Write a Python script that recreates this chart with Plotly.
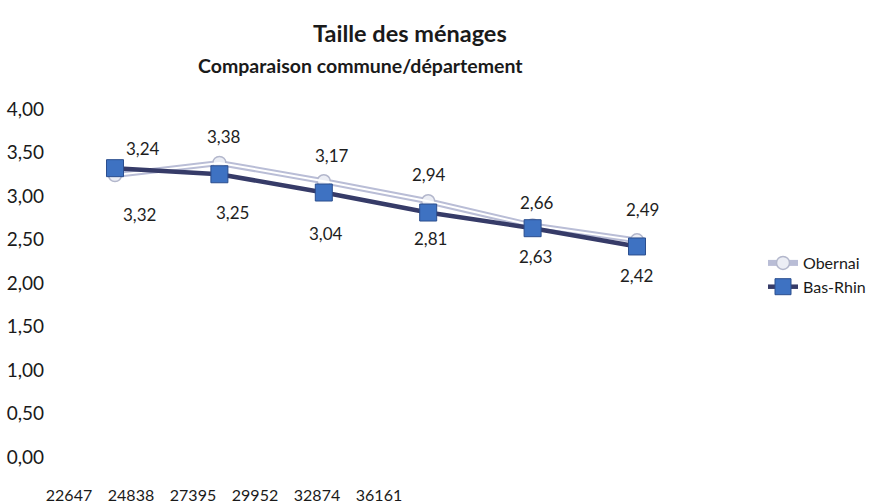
import plotly.graph_objects as go

# ---- data ----
categories = ["22647", "24838", "27395", "29952", "32874", "36161"]
obernai = [3.24, 3.38, 3.17, 2.94, 2.66, 2.49]
bas_rhin = [3.32, 3.25, 3.04, 2.81, 2.63, 2.42]
y_ticks = [0, 0.5, 1, 1.5, 2, 2.5, 3, 3.5, 4]
title_line1 = "Taille des ménages"
title_line2 = "Comparaison commune/département"

# ---- label offsets (style, pixels) ----
obernai_dx = [28, 5, 8, 1, 4, 5]
obernai_dy = [27, 26, 26, 27, 23, 31]
basrhin_dx = [24, 13, 2, 2, 3, -1]
basrhin_dy = [-46, -38, -41, -26, -28, -29]

W, H = 880, 504
ML, MR, MT, MB = 30, 0, 109, 47
PW = W - ML - MR
PH = H - MT - MB

def px_x(p):
    return (p - ML) / PW

def px_y(p):
    return (H - MB - p) / PH

FONT = "Lato, 'Open Sans', sans-serif"

fig = go.Figure()

# Obernai: light outer line
fig.add_trace(go.Scatter(
    x=categories, y=obernai, name="Obernai", mode="lines+markers",
    line=dict(color="#b9bdd6", width=6),
    marker=dict(symbol="circle", size=13, color="#eceef5",
                line=dict(color="#b3b7cc", width=1.5)),
    hoverinfo="skip",
))
# Obernai: white inner line
fig.add_trace(go.Scatter(
    x=categories, y=obernai, mode="lines", showlegend=False,
    line=dict(color="#ffffff", width=2), hoverinfo="skip",
))
# Bas-Rhin
fig.add_trace(go.Scatter(
    x=categories, y=bas_rhin, name="Bas-Rhin", mode="lines+markers",
    line=dict(color="#363b68", width=4.5),
    marker=dict(symbol="square", size=17, color="#3e72c2",
                line=dict(color="#2b4e8e", width=1)),
    hoverinfo="skip",
))
# invisible trace carrying the category tick axis
fig.add_trace(go.Scatter(
    x=categories, y=bas_rhin, xaxis="x2", yaxis="y", mode="markers",
    marker=dict(opacity=0), showlegend=False, hoverinfo="skip",
))

def fmt(v):
    return f"{v:.2f}".replace(".", ",")

for i, (v, dx, dy) in enumerate(zip(obernai, obernai_dx, obernai_dy)):
    fig.add_annotation(x=i, y=v, xref="x", yref="y", text=fmt(v), showarrow=False,
                       xshift=dx, yshift=dy,
                       font=dict(family=FONT, size=17, color="#1e1e1e"))
for i, (v, dx, dy) in enumerate(zip(bas_rhin, basrhin_dx, basrhin_dy)):
    fig.add_annotation(x=i, y=v, xref="x", yref="y", text=fmt(v), showarrow=False,
                       xshift=dx, yshift=dy,
                       font=dict(family=FONT, size=17, color="#1e1e1e"))

fig.add_annotation(x=px_x(410), y=px_y(33), xref="paper", yref="paper",
                   text=f"<b>{title_line1}</b>", showarrow=False,
                   xanchor="center", yanchor="middle",
                   font=dict(family=FONT, size=23.5, color="#1a1a1a"))
fig.add_annotation(x=px_x(360), y=px_y(65), xref="paper", yref="paper",
                   text=f"<b>{title_line2}</b>", showarrow=False,
                   xanchor="center", yanchor="middle",
                   font=dict(family=FONT, size=19.5, color="#1a1a1a"))

fig.update_layout(
    width=W, height=H,
    margin=dict(l=ML, r=MR, t=MT, b=MB),
    paper_bgcolor="white", plot_bgcolor="rgba(0,0,0,0)",
    separators=", ",
    showlegend=True,
    legend=dict(x=px_x(763), y=px_y(246), xanchor="left", yanchor="top",
                font=dict(family=FONT, size=16, color="#1a1a1a"),
                bgcolor="rgba(0,0,0,0)", tracegroupgap=0),
    xaxis=dict(type="category", domain=[px_x(62.8), px_x(689.2)],
               range=[-0.5, 5.5], showticklabels=False, showgrid=False,
               zeroline=False, showline=False, ticks=""),
    xaxis2=dict(type="category", domain=[px_x(38), px_x(410)],
                range=[-0.5, 5.5], anchor="y", showgrid=False, zeroline=False,
                showline=False, ticks="outside", ticklen=24,
                tickcolor="rgba(0,0,0,0)",
                tickfont=dict(family=FONT, size=16, color="#1a1a1a")),
    yaxis=dict(range=[0, 4], tickvals=y_ticks, tickformat=".2f",
               showgrid=False, zeroline=False, showline=False,
               ticks="outside", ticklen=14, tickcolor="rgba(0,0,0,0)",
               tickfont=dict(family=FONT, size=19, color="#1a1a1a")),
)

fig.write_html("out.html", config={"displayModeBar": False},
               post_script="document.body.style.margin='0';")
